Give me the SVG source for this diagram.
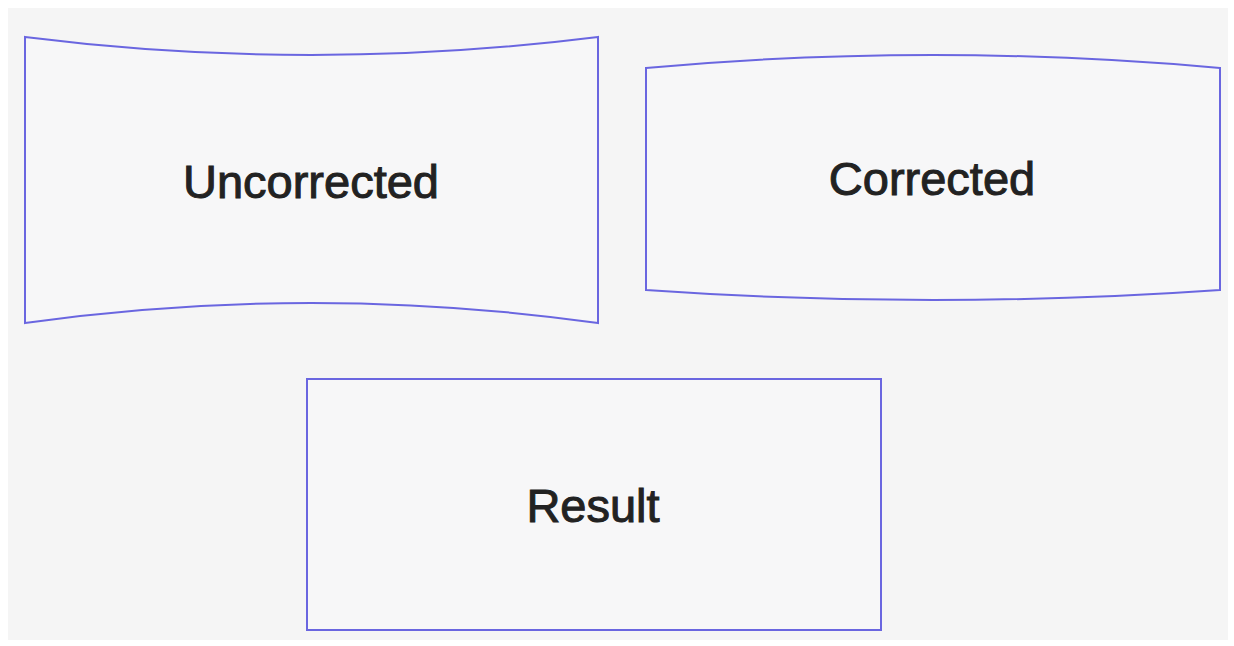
<svg xmlns="http://www.w3.org/2000/svg" width="1234" height="646" viewBox="0 0 1234 646">
<style>
.shape{fill:#f7f7f8;stroke:#6a66e0;stroke-width:2;stroke-linejoin:miter}
.lbl{font-family:"Liberation Sans",Arial,sans-serif;font-size:47px;fill:#222;stroke:#222;stroke-width:1;text-anchor:middle}
</style>
<rect x="0" y="0" width="1234" height="646" fill="#ffffff"/>
<rect x="8" y="8" width="1220" height="632" fill="#f5f5f5"/>
<g id="uncorrected">
<path class="shape" d="M25,37 Q311,73 598,37 L598,323 Q311,283 25,323 Z"/>
<text class="lbl" x="311" y="198">Uncorrected</text>
</g>
<g id="corrected">
<path class="shape" d="M646,68 Q933,42 1220,68 L1220,290 Q933,310 646,290 Z"/>
<text class="lbl" x="932" y="195">Corrected</text>
</g>
<g id="result">
<rect class="shape" x="307" y="379" width="574" height="251"/>
<text class="lbl" x="593" y="522">Result</text>
</g>
<g id="connectors"/>
</svg>
